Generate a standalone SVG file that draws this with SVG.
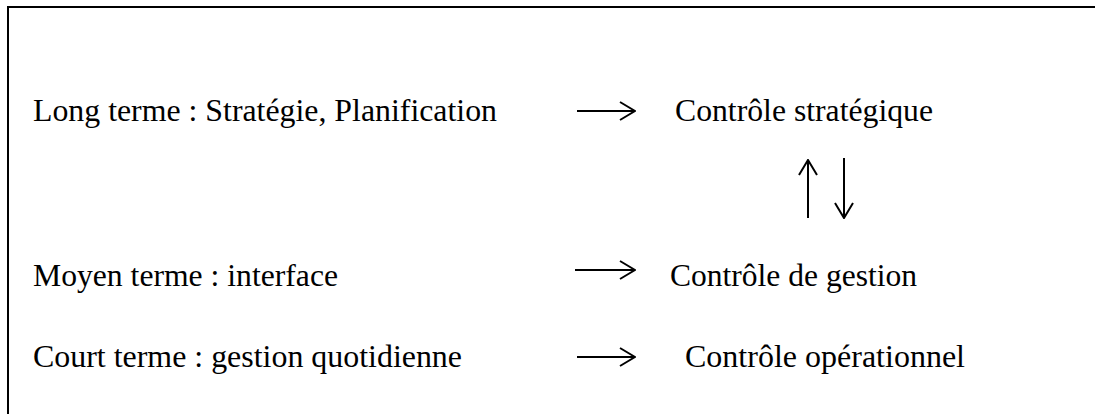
<svg xmlns="http://www.w3.org/2000/svg" width="1095" height="414" viewBox="0 0 1095 414">
<style>
text{font-family:"Liberation Serif","Times New Roman",serif;font-size:31px;fill:#000}
.ln{fill:none;stroke:#000;stroke-width:2}
</style>
<defs>
<marker id="ah" viewBox="0 0 17 20" refX="16" refY="10" markerWidth="17" markerHeight="20" markerUnits="userSpaceOnUse" orient="auto">
<path d="M1,1 L16,10 L1,19" fill="none" stroke="#000" stroke-width="2"/>
</marker>
</defs>
<rect width="1095" height="414" fill="#fff"/>
<polyline class="ln" points="8,414 8,7 1095,7" stroke-width="2.5"/>
<g id="long-terme"><text x="33" y="121" textLength="464" lengthAdjust="spacingAndGlyphs">Long terme : Stratégie, Planification</text></g>
<g id="controle-strategique"><text x="675" y="121" textLength="258" lengthAdjust="spacingAndGlyphs">Contrôle stratégique</text></g>
<g id="moyen-terme"><text x="33" y="286" textLength="305" lengthAdjust="spacingAndGlyphs">Moyen terme : interface</text></g>
<g id="controle-gestion"><text x="670" y="286" textLength="247" lengthAdjust="spacingAndGlyphs">Contrôle de gestion</text></g>
<g id="court-terme"><text x="33" y="367" textLength="429" lengthAdjust="spacingAndGlyphs">Court terme : gestion quotidienne</text></g>
<g id="controle-operationnel"><text x="685" y="367" textLength="280" lengthAdjust="spacingAndGlyphs">Contrôle opérationnel</text></g>
<g id="connectors">
<line class="ln" x1="577" y1="111" x2="635" y2="111" marker-end="url(#ah)"/>
<line class="ln" x1="575" y1="270" x2="635" y2="270" marker-end="url(#ah)"/>
<line class="ln" x1="577" y1="357" x2="635" y2="357" marker-end="url(#ah)"/>
<line class="ln" x1="808" y1="218" x2="808" y2="160" marker-end="url(#ah)"/>
<line class="ln" x1="844" y1="158" x2="844" y2="218" marker-end="url(#ah)"/>
</g>
</svg>
